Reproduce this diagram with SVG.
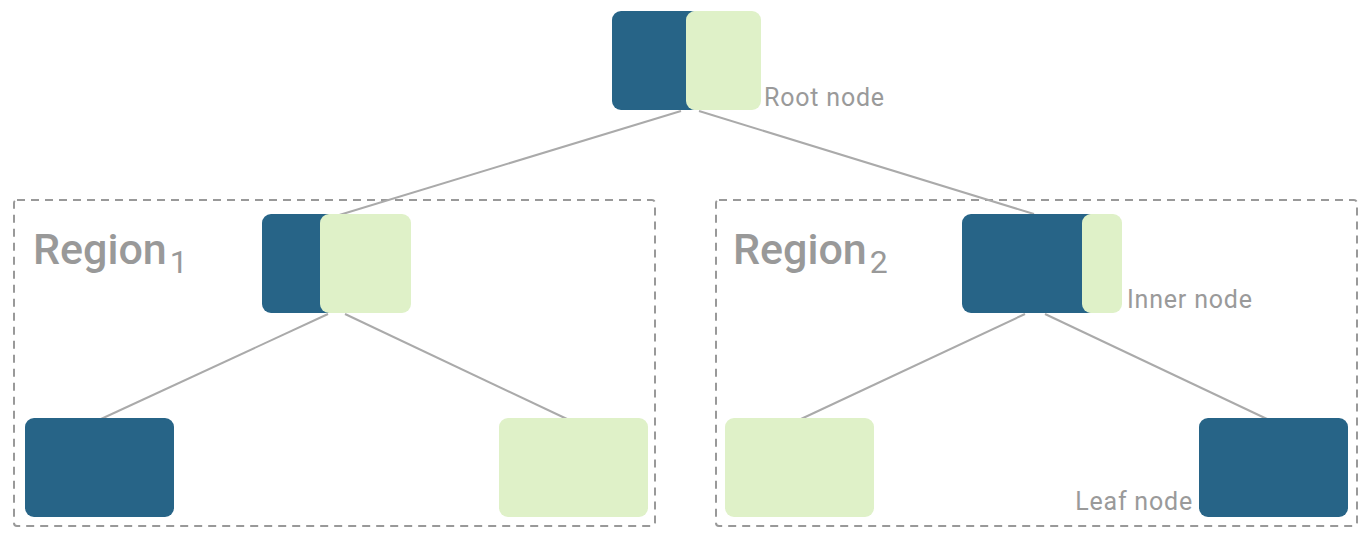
<svg xmlns="http://www.w3.org/2000/svg" width="1372" height="546" viewBox="0 0 1372 546">
<style>
.dk{fill:#276487}
.lt{fill:#dff1c8}
.reg{fill:none;stroke:#999;stroke-width:2;stroke-dasharray:8 6}
.lbl{font-family:Roboto,"Liberation Sans",sans-serif;font-size:25px;font-weight:400;letter-spacing:0.8px;fill:#9a9a9a}
.rt{font-family:Roboto,"Liberation Sans",sans-serif;font-size:43px;font-weight:500;fill:#999}
.cn line{stroke:#aaa;stroke-width:2}
</style>
<rect width="1372" height="546" fill="#fff"/>
<g id="region1"><rect class="reg" x="14" y="200" width="641" height="326" rx="3"/>
<text class="rt" x="33" y="264">Region<tspan font-size="32" font-weight="400" dx="3" dy="9">1</tspan></text></g>
<g id="region2"><rect class="reg" x="716" y="200" width="641" height="326" rx="3"/>
<text class="rt" x="733" y="264">Region<tspan font-size="32" font-weight="400" dx="3" dy="9">2</tspan></text></g>
<g class="cn" id="connectors">
<line x1="681" y1="111" x2="336" y2="216"/>
<line x1="699" y1="111" x2="1034" y2="214"/>
<line x1="328" y1="314" x2="101" y2="419"/>
<line x1="345" y1="314" x2="567" y2="419"/>
<line x1="1025" y1="314" x2="801" y2="419"/>
<line x1="1045" y1="314" x2="1267" y2="419"/>
</g>
<g id="root"><rect class="dk" x="612" y="11" width="88" height="99" rx="9"/><rect class="lt" x="686" y="11" width="75" height="99" rx="9"/>
<text class="lbl" x="764" y="106">Root node</text></g>
<g id="inner1"><rect class="dk" x="262" y="214" width="80" height="99" rx="9"/><rect class="lt" x="320" y="214" width="91" height="99" rx="9"/></g>
<g id="inner2"><rect class="dk" x="962" y="214" width="135" height="99" rx="9"/><rect class="lt" x="1082" y="214" width="40" height="99" rx="9"/>
<text class="lbl" x="1127" y="308">Inner node</text></g>
<g id="leaf1"><rect class="dk" x="25" y="418" width="149" height="99" rx="9"/></g>
<g id="leaf2"><rect class="lt" x="499" y="418" width="149" height="99" rx="9"/></g>
<g id="leaf3"><rect class="lt" x="725" y="418" width="149" height="99" rx="9"/></g>
<g id="leaf4"><rect class="dk" x="1199" y="418" width="149" height="99" rx="9"/>
<text class="lbl" x="1193" y="510" text-anchor="end">Leaf node</text></g>
</svg>
